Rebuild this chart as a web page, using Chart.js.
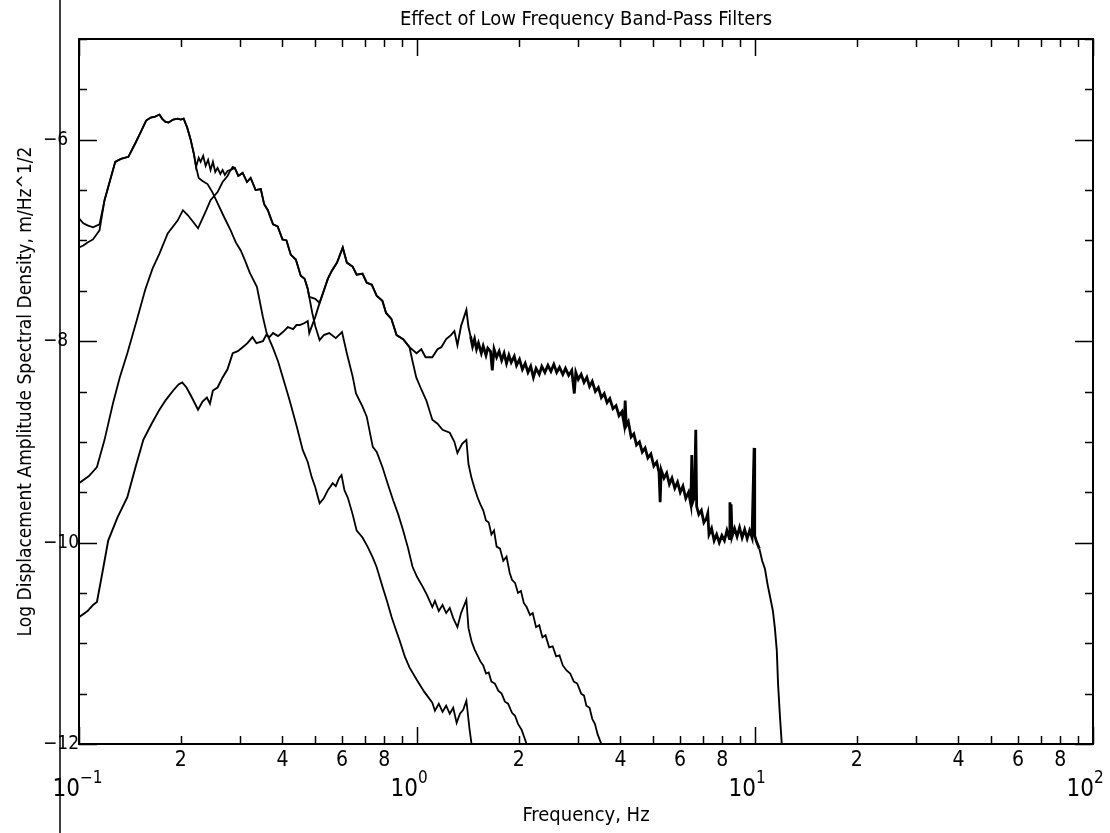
<!DOCTYPE html>
<html>
<head>
<meta charset="utf-8">
<title>Effect of Low Frequency Band-Pass Filters</title>
<script src="https://cdn.jsdelivr.net/npm/chart.js@4.4.1/dist/chart.umd.min.js"></script>
<style>
  html, body { margin: 0; padding: 0; background: #fff; }
  #wrap { width: 1110px; height: 833px; }
</style>
</head>
<body>
<div id="wrap"><canvas id="psd"></canvas></div>
<script>
// 1. Axis ticks and labels
const xTickVals = [0.1, 0.2, 0.3, 0.4, 0.5, 0.6, 0.7, 0.8, 0.9, 1, 2, 3, 4, 5, 6, 7, 8, 9, 10, 20, 30, 40, 50, 60, 70, 80, 90, 100];
const xTickLabels = ['', '2', '', '4', '', '6', '', '8', '', '', '2', '', '4', '', '6', '', '8', '', '', '2', '', '4', '', '6', '', '8', '', ''];
const decadeVals = [0.1, 1, 10, 100];
const decadeExps = ['\u22121', '0', '1', '2'];
const yLabelVals = [-6, -8, -10, -12];
const yLabelText = ['\u22126', '\u22128', '\u221210', '\u221212'];

// 2. Spectra (frequency in Hz, log10 amplitude)
// filters A and B share the start and the 0.17 Hz peak
const aFreqHead = [0.100, 0.103, 0.106, 0.110, 0.115];
const aLevelHead = [-6.78, -6.83, -6.85, -6.87, -6.84];
const bFreqHead = [0.100, 0.103, 0.106, 0.110, 0.115];
const bLevelHead = [-7.07, -7.05, -7.02, -6.99, -6.90];

const peakFreq = [0.119, 0.128, 0.133, 0.140, 0.147, 0.152, 0.158, 0.163, 0.168, 0.173, 0.176, 0.180, 0.184, 0.190, 0.196, 0.200, 0.204, 0.209, 0.214, 0.219, 0.222];
const peakLevel = [-6.60, -6.22, -6.19, -6.17, -6.03, -5.93, -5.81, -5.78, -5.77, -5.75, -5.79, -5.82, -5.83, -5.80, -5.79, -5.80, -5.79, -5.88, -6.00, -6.15, -6.27];

const aFreqTail = [0.226, 0.232, 0.240, 0.248, 0.257, 0.268, 0.281, 0.291, 0.301, 0.310, 0.320, 0.336, 0.350, 0.359, 0.374, 0.388, 0.401, 0.420, 0.441, 0.459,
  0.475, 0.488, 0.500, 0.515, 0.530, 0.545, 0.563, 0.575, 0.588, 0.598, 0.610, 0.625, 0.645, 0.663, 0.690, 0.714, 0.740, 0.759, 0.791, 0.815,
  0.841, 0.865, 0.888, 0.920, 0.950, 0.997, 1.05, 1.11, 1.13, 1.16, 1.19, 1.22, 1.25, 1.28, 1.31, 1.34, 1.37, 1.40, 1.43, 1.45];
const aLevelTail = [-6.38, -6.41, -6.44, -6.52, -6.63, -6.76, -6.90, -7.02, -7.10, -7.20, -7.32, -7.46, -7.76, -7.92, -8.06, -8.20, -8.36, -8.59, -8.85, -9.08,
  -9.20, -9.35, -9.45, -9.61, -9.56, -9.48, -9.41, -9.44, -9.36, -9.33, -9.48, -9.56, -9.72, -9.88, -9.95, -10.04, -10.15, -10.24, -10.44, -10.58,
  -10.74, -10.86, -10.97, -11.13, -11.24, -11.36, -11.48, -11.59, -11.67, -11.60, -11.68, -11.62, -11.70, -11.64, -11.79, -11.70, -11.66, -11.57, -11.85, -12.0];

const bFreqPlateau = [0.226, 0.229, 0.233, 0.237, 0.241, 0.245, 0.249, 0.253, 0.257, 0.262, 0.266, 0.270, 0.275, 0.281, 0.285];
const bLevelPlateau = [-6.18, -6.22, -6.16, -6.26, -6.20, -6.30, -6.22, -6.32, -6.28, -6.34, -6.30, -6.35, -6.31, -6.30, -6.27];

// filters B and C run together from 0.29 to 0.48 Hz
const midFreq = [0.289, 0.296, 0.305, 0.314, 0.322, 0.333, 0.345, 0.353, 0.362, 0.375, 0.387, 0.400, 0.411, 0.423, 0.438, 0.453, 0.465, 0.475];
const midLevel = [-6.28, -6.36, -6.33, -6.42, -6.38, -6.50, -6.49, -6.64, -6.70, -6.84, -6.86, -6.99, -7.00, -7.14, -7.19, -7.35, -7.38, -7.48];

const bFreqTail = [0.490, 0.500, 0.515, 0.530, 0.550, 0.575, 0.600, 0.620, 0.645, 0.660, 0.690, 0.710, 0.740, 0.760, 0.790, 0.820, 0.850, 0.880, 0.910, 0.940,
  0.970, 1.00, 1.04, 1.07, 1.11, 1.13, 1.16, 1.19, 1.22, 1.25, 1.28, 1.317, 1.35, 1.40, 1.42, 1.45, 1.48, 1.51, 1.54, 1.57,
  1.60, 1.63, 1.66, 1.70, 1.74, 1.78, 1.82, 1.86, 1.91, 1.95, 1.99, 2.04, 2.08, 2.11];
const bLevelTail = [-7.72, -7.85, -7.99, -7.94, -7.92, -7.97, -7.91, -8.12, -8.35, -8.52, -8.65, -8.75, -9.05, -9.10, -9.25, -9.42, -9.58, -9.72, -9.88, -10.05,
  -10.24, -10.34, -10.44, -10.52, -10.64, -10.58, -10.68, -10.62, -10.70, -10.65, -10.75, -10.84, -10.70, -10.57, -10.85, -10.98, -11.06, -11.12, -11.18, -11.22,
  -11.30, -11.29, -11.38, -11.40, -11.47, -11.50, -11.58, -11.60, -11.69, -11.72, -11.80, -11.86, -11.94, -12.0];

const cFreqHead = [0.100, 0.107, 0.113, 0.119, 0.126, 0.132, 0.139, 0.148, 0.157, 0.165, 0.173, 0.183, 0.196, 0.203, 0.210, 0.218, 0.225, 0.232, 0.238, 0.245, 0.257, 0.266, 0.275, 0.281];
const cLevelHead = [-9.41, -9.34, -9.25, -8.98, -8.62, -8.36, -8.12, -7.80, -7.49, -7.28, -7.13, -6.93, -6.80, -6.70, -6.75, -6.82, -6.88, -6.78, -6.70, -6.60, -6.52, -6.42, -6.36, -6.30];
const cFreqDip = [0.480, 0.500, 0.515, 0.530, 0.545, 0.560, 0.580];
const cLevelDip = [-7.56, -7.58, -7.62, -7.50, -7.38, -7.30, -7.22];

// filters C and D share the 0.6 Hz hump
const humpFreq = [0.603, 0.620, 0.645, 0.663, 0.690, 0.710, 0.735, 0.760, 0.790, 0.810, 0.840, 0.870, 0.910, 0.950];
const humpLevel = [-7.07, -7.22, -7.26, -7.34, -7.33, -7.42, -7.44, -7.55, -7.60, -7.72, -7.78, -7.94, -7.98, -8.06];

const cFreqTail = [0.970, 0.995, 1.03, 1.066, 1.11, 1.15, 1.19, 1.25, 1.29, 1.317, 1.36, 1.40,
  1.42, 1.45, 1.48, 1.51, 1.54, 1.57, 1.60, 1.63, 1.66, 1.69, 1.72, 1.76, 1.80, 1.84, 1.88, 1.91, 1.95, 1.99, 2.03, 2.07,
  2.11, 2.16, 2.20, 2.25, 2.30, 2.35, 2.40, 2.46, 2.52, 2.58, 2.64, 2.70, 2.77, 2.84, 2.91, 2.98, 3.06, 3.12, 3.17, 3.24, 3.30, 3.36, 3.42, 3.51];
const cLevelTail = [-8.20, -8.36, -8.48, -8.59, -8.78, -8.82, -8.88, -8.91, -9.00, -9.11, -9.02, -8.98,
  -9.22, -9.36, -9.46, -9.55, -9.62, -9.68, -9.78, -9.80, -9.92, -9.88, -10.04, -10.06, -10.18, -10.14, -10.30, -10.37, -10.40, -10.50, -10.48, -10.60,
  -10.64, -10.72, -10.70, -10.84, -10.82, -10.94, -10.92, -11.04, -11.03, -11.13, -11.12, -11.22, -11.27, -11.30, -11.38, -11.40, -11.50, -11.52, -11.62, -11.64, -11.75, -11.80, -11.90, -12.0];

const dFreqHead = [0.100, 0.106, 0.110, 0.113, 0.118, 0.122, 0.130, 0.139, 0.147, 0.155, 0.164, 0.173, 0.181, 0.190, 0.197, 0.202, 0.208, 0.215, 0.225, 0.232,
  0.239, 0.244, 0.249, 0.257, 0.266, 0.275, 0.285, 0.295, 0.305, 0.315, 0.326, 0.335, 0.350, 0.358, 0.366, 0.375, 0.388, 0.401, 0.415, 0.430, 0.440, 0.450, 0.465, 0.475];
const dLevelHead = [-10.74, -10.68, -10.62, -10.59, -10.25, -9.98, -9.75, -9.55, -9.25, -8.98, -8.82, -8.68, -8.58, -8.49, -8.43, -8.41, -8.46, -8.55, -8.68, -8.60,
  -8.56, -8.62, -8.49, -8.46, -8.36, -8.28, -8.12, -8.10, -8.06, -8.02, -7.96, -8.02, -8.00, -7.94, -7.96, -7.92, -7.95, -7.91, -7.86, -7.88, -7.84, -7.84, -7.82, -7.80];
const dFreqDip = [0.480, 0.500, 0.515, 0.530, 0.545, 0.560, 0.580];
const dLevelDip = [-7.92, -7.76, -7.62, -7.50, -7.38, -7.30, -7.22];

const dFreqTail = [0.997, 1.03, 1.06, 1.11, 1.15, 1.18, 1.22, 1.26, 1.29, 1.317, 1.35, 1.40,
  1.42, 1.44, 1.46, 1.48, 1.50, 1.52, 1.55, 1.57, 1.60, 1.62, 1.65, 1.67, 1.69, 1.72, 1.75, 1.78, 1.81, 1.84, 1.87, 1.90,
  1.94, 1.97, 2.01, 2.05, 2.09, 2.13, 2.17, 2.21, 2.25, 2.30, 2.34, 2.39, 2.44, 2.49, 2.54, 2.59, 2.64, 2.70, 2.75, 2.81,
  2.87, 2.92, 2.95, 3.00, 3.06, 3.12, 3.18, 3.24, 3.30, 3.37, 3.44, 3.51, 3.58, 3.65, 3.72, 3.80, 3.88, 3.96, 4.04, 4.10,
  4.13, 4.16, 4.22, 4.30, 4.38, 4.46, 4.55, 4.64, 4.73, 4.82, 4.92, 5.02, 5.12, 5.20, 5.24, 5.28, 5.38, 5.48, 5.58, 5.68,
  5.79, 5.90, 6.01, 6.12, 6.24, 6.36, 6.46, 6.50, 6.54, 6.62, 6.68, 6.72, 6.82, 6.94, 7.06, 7.18, 7.25, 7.31, 7.44, 7.57,
  7.70, 7.84, 7.98, 8.12, 8.26, 8.40, 8.43, 8.47, 8.50, 8.55, 8.70, 8.85, 9.00, 9.16, 9.32, 9.48, 9.64, 9.80, 9.94, 9.98,
  10.1, 10.3, 10.5, 10.7, 10.9, 11.1, 11.3, 11.45, 11.6, 11.7, 11.85, 12.0];
const dLevelTail = [-8.12, -8.08, -8.16, -8.16, -8.08, -8.06, -7.98, -7.94, -7.90, -8.04, -7.85, -7.69,
  -7.86, -7.95, -8.05, -7.98, -8.08, -8.02, -8.12, -8.05, -8.14, -8.07, -8.10, -8.29, -8.08, -8.16, -8.10, -8.19, -8.12, -8.22, -8.14, -8.21,
  -8.15, -8.24, -8.18, -8.28, -8.22, -8.31, -8.25, -8.36, -8.27, -8.33, -8.25, -8.31, -8.24, -8.30, -8.23, -8.31, -8.26, -8.33, -8.27, -8.34,
  -8.29, -8.52, -8.31, -8.38, -8.33, -8.41, -8.36, -8.45, -8.40, -8.50, -8.46, -8.56, -8.52, -8.61, -8.57, -8.67, -8.64, -8.74, -8.70, -8.82,
  -8.59, -8.84, -8.80, -8.95, -8.92, -9.03, -9.00, -9.10, -9.06, -9.16, -9.12, -9.24, -9.20, -9.30, -9.60, -9.28, -9.36, -9.31, -9.42, -9.36,
  -9.46, -9.40, -9.50, -9.44, -9.56, -9.50, -9.62, -9.13, -9.60, -9.55, -8.88, -9.64, -9.72, -9.68, -9.80, -9.76, -9.71, -9.92, -9.86, -9.98,
  -9.92, -10.00, -9.93, -9.98, -9.88, -9.96, -9.60, -9.90, -9.62, -9.94, -9.86, -9.94, -9.85, -9.95, -9.87, -9.96, -9.88, -9.95, -9.06, -9.93,
  -9.99, -10.06, -10.18, -10.26, -10.42, -10.55, -10.68, -10.85, -11.07, -11.40, -11.72, -12.0];

// 3. Build datasets
const FONT = "'Liberation Sans Narrow', 'DejaVu Sans Condensed', 'Liberation Sans', sans-serif";

function toPoints(freqs, levels) {
  return freqs.map((f, i) => ({ x: f, y: levels[i] }));
}

function curve(parts, width) {
  let pts = [];
  parts.forEach(p => { pts = pts.concat(toPoints(p[0], p[1])); });
  return { data: pts, borderColor: '#000', borderWidth: width, pointRadius: 0, fill: false, tension: 0 };
}

const datasets = [
  curve([[aFreqHead, aLevelHead], [peakFreq, peakLevel], [aFreqTail, aLevelTail]], 1.8),
  curve([[bFreqHead, bLevelHead], [peakFreq, peakLevel], [bFreqPlateau, bLevelPlateau], [midFreq, midLevel], [bFreqTail, bLevelTail]], 1.8),
  curve([[cFreqHead, cLevelHead], [midFreq, midLevel], [cFreqDip, cLevelDip], [humpFreq, humpLevel], [cFreqTail, cLevelTail]], 1.8),
  curve([[dFreqHead, dLevelHead], [dFreqDip, dLevelDip], [humpFreq, humpLevel], [dFreqTail, dLevelTail]], 1.9)
];
// the broadband trace is a dense noisy band between 1.5 and 10 Hz
datasets[3].segment = {
  borderWidth: c => (c.p0.parsed.x > 1.42 && c.p1.parsed.x < 10.4) ? 2.8 : 1.9
};

// 4. Frame, inward ticks, decade labels and y title
const framePlugin = {
  id: 'frame',
  afterDraw(chart) {
    const { ctx, chartArea: a, scales: { x, y } } = chart;
    ctx.save();
    ctx.strokeStyle = '#000';
    ctx.fillStyle = '#000';

    // vertical rule in the left margin of the scanned page
    ctx.lineWidth = 1.5;
    ctx.beginPath();
    ctx.moveTo(60, 0);
    ctx.lineTo(60, chart.height);
    ctx.stroke();

    ctx.lineWidth = 2;
    ctx.strokeRect(a.left, a.top, a.right - a.left, a.bottom - a.top);

    ctx.lineWidth = 1.5;
    ctx.beginPath();
    xTickVals.forEach(v => {
      const px = Math.round(x.getPixelForValue(v)) + 0.5;
      const len = decadeVals.includes(v) ? 17 : 8;
      ctx.moveTo(px, a.bottom);
      ctx.lineTo(px, a.bottom - len);
      ctx.moveTo(px, a.top);
      ctx.lineTo(px, a.top + len);
    });
    y.ticks.forEach(t => {
      const py = Math.round(y.getPixelForValue(t.value)) + 0.5;
      const len = yLabelVals.includes(t.value) ? 18 : 8;
      ctx.moveTo(a.left, py);
      ctx.lineTo(a.left + len, py);
      ctx.moveTo(a.right, py);
      ctx.lineTo(a.right - len, py);
    });
    ctx.stroke();

    decadeVals.forEach((v, i) => {
      const px = x.getPixelForValue(v);
      ctx.font = '24px ' + FONT;
      ctx.textAlign = 'right';
      ctx.textBaseline = 'alphabetic';
      ctx.fillText('10', px + 1, 796);
      ctx.font = '17px ' + FONT;
      ctx.textAlign = 'left';
      ctx.fillText(decadeExps[i], px + 1, 783);
    });

    ctx.translate(31, (a.top + a.bottom) / 2);
    ctx.rotate(-Math.PI / 2);
    ctx.font = '19px ' + FONT;
    ctx.textAlign = 'center';
    ctx.textBaseline = 'alphabetic';
    ctx.fillText('Log Displacement Amplitude Spectral Density, m/Hz^1/2', 0, 0);
    ctx.restore();
  }
};

// 5. Chart
Chart.defaults.font.family = FONT;
Chart.defaults.color = '#000';

new Chart(document.getElementById('psd'), {
  type: 'line',
  data: { datasets: datasets },
  options: {
    responsive: true,
    maintainAspectRatio: false,
    animation: false,
    layout: { padding: { left: 43, right: 17, top: 0, bottom: 0 } },
    plugins: {
      legend: { display: false },
      tooltip: { enabled: false },
      title: {
        display: true,
        text: 'Effect of Low Frequency Band-Pass Filters',
        fullSize: false,
        font: { size: 20, weight: 'normal' },
        padding: { top: 8, bottom: 7 }
      }
    },
    scales: {
      x: {
        type: 'logarithmic',
        min: 0.1,
        max: 100,
        afterBuildTicks: axis => { axis.ticks = xTickVals.map(v => ({ value: v })); },
        afterFit: axis => { axis.height = 89; },
        grid: { display: false, drawTicks: false },
        border: { display: false },
        ticks: {
          autoSkip: false,
          maxRotation: 0,
          padding: 4,
          font: { size: 21 },
          callback: (v, i) => xTickLabels[i]
        },
        title: {
          display: true,
          text: 'Frequency, Hz',
          font: { size: 20 },
          padding: { top: 0, bottom: 5 }
        }
      },
      y: {
        min: -12,
        max: -5,
        afterFit: axis => { axis.width = 36; },
        grid: { display: false, drawTicks: false },
        border: { display: false },
        ticks: {
          stepSize: 0.5,
          autoSkip: false,
          crossAlign: 'far',
          font: { size: 19 },
          callback: v => {
            const k = yLabelVals.indexOf(v);
            return k >= 0 ? yLabelText[k] : '';
          }
        }
      }
    }
  },
  plugins: [framePlugin]
});
</script>
</body>
</html>
